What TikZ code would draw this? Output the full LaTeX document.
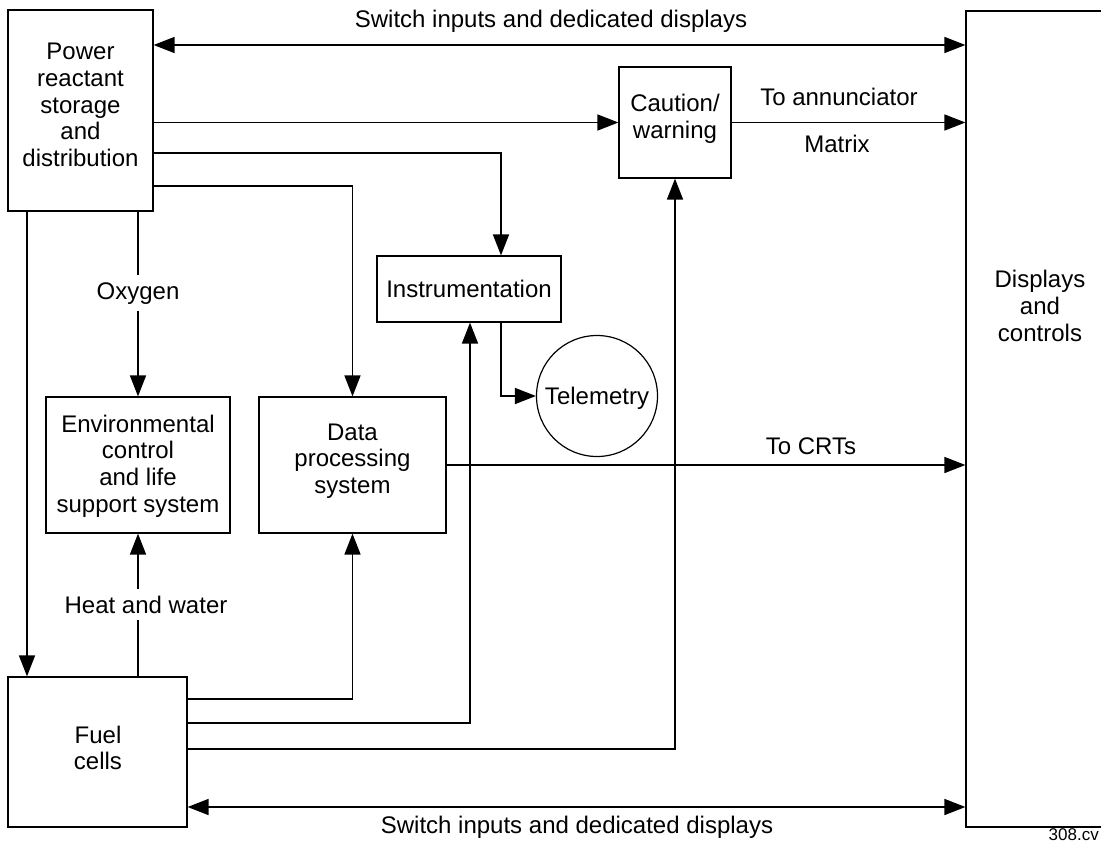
\documentclass[tikz,border=0pt]{standalone}
\usepackage{fontspec}
\setmainfont{Liberation Sans}
\usetikzlibrary{arrows.meta,calc}
\begin{document}
\begin{tikzpicture}[x=1pt,y=-1pt,
  font=\fontsize{24}{26.7}\selectfont,
  box/.style={draw, line width=1.2pt, inner sep=0pt, align=center},
  conn/.style={line width=1.6pt, -{Triangle[length=21pt,width=16pt]}},
  both/.style={line width=1.6pt, {Triangle[length=21pt,width=16pt]}-{Triangle[length=21pt,width=16pt]}},
  lab/.style={inner sep=0pt, align=center},
  gap/.style={fill=white, inner xsep=2pt, inner ysep=7pt}]
\useasboundingbox (0,0) rectangle (1101,844);

% boxes
\node[box, minimum width=145pt, minimum height=201pt] (power) at (80.5,110.5) {};
\node[lab] (powert) at (80.5,105) {Power\\reactant\\storage\\and\\distribution};
\node[box, minimum width=112pt, minimum height=111pt] (caution) at (675,122.5) {};
\node[lab] (cautiont) at (675,119) {Caution/\\warning};
\node[box, minimum width=178pt, minimum height=816pt] (displays) at (1055,419) {};
\node[lab] (displayst) at (1040,306) {Displays\\and\\controls};
\node[box, minimum width=184pt, minimum height=66pt] (instr) at (469,289) {};
\node[lab, anchor=base] (instrt) at (469,297) {Instrumentation};
\node[draw, circle, line width=1.2pt, minimum size=121pt, inner sep=0pt] (tel) at (597,396) {};
\node[lab, anchor=base] (telt) at (597,404) {Telemetry};
\node[box, minimum width=184pt, minimum height=136pt] (env) at (138,465) {};
\node[lab] (envt) at (138,466) {Environmental\\control\\and life\\support system};
\node[box, minimum width=187pt, minimum height=136pt] (data) at (352.5,465) {};
\node[lab] (datat) at (352.5,461) {Data\\processing\\system};
\node[box, minimum width=179pt, minimum height=150pt] (fuel) at (97.5,752) {};
\node[lab] (fuelt) at (98,748) {Fuel\\cells};

% helper coordinates
\coordinate (ytop) at (0,45);
\coordinate (ybot) at (0,807);
\coordinate (lx) at (27,0);
\coordinate (ix) at (501,0);
\coordinate (y153) at (0,153);
\coordinate (y186) at (0,186);
\coordinate (y699) at (0,699);
\coordinate (y723) at (0,723);
\coordinate (y749) at (0,749);
\coordinate (x470) at (470,0);

% top and bottom bidirectional
\draw[both] (power.east |- ytop) -- (displays.west |- ytop);
\draw[both] (fuel.east |- ybot) -- (displays.west |- ybot);
\node[lab, anchor=base] (topl) at (551,27) {Switch inputs and dedicated displays};
\node[lab, anchor=base] (botl) at (577,833) {Switch inputs and dedicated displays};

% power outputs
\draw[conn] (power.east |- caution.west) -- (caution.west);
\draw[conn] (power.east |- y153) -| (ix |- instr.north);
\draw[conn] (power.east |- y186) -| (data.north);
\draw[conn] (lx |- power.south) -- (lx |- fuel.north);
\draw[conn] (power.south -| env.north) -- (env.north);
\node[lab, anchor=base, gap] (oxy) at (138,299) {Oxygen};

% caution to displays
\draw[conn] (caution.east) -- (displays.west |- caution.east);
\node[lab, anchor=base] (annl) at (839,105) {To annunciator};
\node[lab, anchor=base] (matl) at (837,152) {Matrix};

% instrumentation to telemetry
\draw[conn] (ix |- instr.south) |- (tel.west);

% data to displays
\draw[conn] (data.east) -- (displays.west |- data.east);
\node[lab, anchor=base] (crtl) at (811,454) {To CRTs};

% fuel cells outputs
\draw[conn] (fuel.north -| env.south) -- (env.south);
\node[lab, anchor=base, gap] (heat) at (146,613) {Heat and water};
\draw[conn] (fuel.east |- y699) -| (data.south);
\draw[conn] (fuel.east |- y723) -| (x470 |- instr.south);
\draw[conn] (fuel.east |- y749) -| (caution.south);

\node[anchor=base east, inner sep=0pt, font=\fontsize{17}{19}\selectfont] (cv) at (1099,840) {308.cv};
\end{tikzpicture}
\end{document}
